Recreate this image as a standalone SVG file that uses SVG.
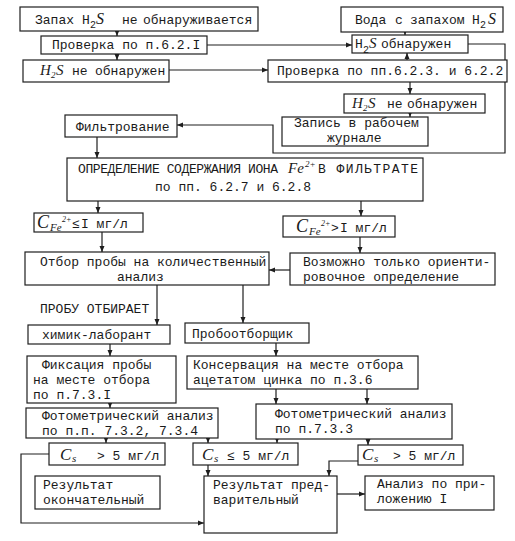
<svg xmlns="http://www.w3.org/2000/svg" width="515" height="541" viewBox="0 0 515 541">
<style>
.b{fill:#fff;stroke:#1e1e1e;stroke-width:1.2}
.t{font-family:"Liberation Mono","DejaVu Sans Mono",monospace;font-size:13px;fill:#1a1a1a}
.i{font-family:"Liberation Serif","DejaVu Serif",serif;font-style:italic}
.c{fill:none;stroke:#1e1e1e;stroke-width:1.2}
</style>
<defs>
<marker id="ah" markerUnits="userSpaceOnUse" markerWidth="6" markerHeight="6" refX="6" refY="3" orient="auto">
<path d="M0,0.5 L6,3 L0,5.5 z" fill="#1e1e1e"/>
</marker>
</defs>
<rect width="515" height="541" fill="#fff"/>
<g id="connectors" class="c" marker-end="url(#ah)">
<path d="M117,31 V36"/>
<path d="M117,54 V60"/>
<path d="M207,45 H352"/>
<path d="M405,32 V35"/>
<path d="M407,60 V53"/>
<path d="M169,70 H268"/>
<path d="M410,82 V94"/>
<path d="M410,113 V117"/>
<path d="M468,44 H505 V153 H273 V125 H177"/>
<path d="M97,137 V158"/>
<path d="M98,201 V213"/>
<path d="M361,201 V216"/>
<path d="M102,232 V252"/>
<path d="M360,237 V253"/>
<path d="M290,270 H269"/>
<path d="M157,285 V325"/>
<path d="M243,285 V323"/>
<path d="M110,344 V356"/>
<path d="M276,343 V356"/>
<path d="M110,403 V408"/>
<path d="M276,389 V404"/>
<path d="M367,389 V404"/>
<path d="M106,438 V443"/>
<path d="M208,438 V443"/>
<path d="M277,439 V443"/>
<path d="M368,439 V445"/>
<path d="M208,465 V476"/>
<path d="M49,454 H21 V523 H204"/>
<path d="M358,461 H329 V476"/>
<path d="M337,494 H365"/>
</g>
<g id="n1">
<rect class="b" x="20" y="7" width="238" height="24"/>
<text class="t" y="24"><tspan x="35">Запах</tspan><tspan x="82">H</tspan><tspan x="90" y="28" font-size="10">2</tspan><tspan x="96" y="24" class="i" font-size="16">S</tspan><tspan x="122">не</tspan><tspan x="143">обнаруживается</tspan></text>
</g>
<g id="n2">
<rect class="b" x="341" y="7" width="162" height="25"/>
<text class="t" y="24"><tspan x="355">Вода</tspan><tspan x="395">с</tspan><tspan x="410">запахом</tspan><tspan x="472">H</tspan><tspan x="480" y="28" font-size="10">2</tspan><tspan x="488" y="24" class="i" font-size="16">S</tspan></text>
</g>
<g id="n3">
<rect class="b" x="41" y="36" width="166" height="18"/>
<text class="t" x="52" y="49">Проверка по п.6.2.I</text>
</g>
<g id="n4">
<rect class="b" x="352" y="35" width="116" height="18"/>
<text class="t" y="48"><tspan x="355">H</tspan><tspan x="363" y="53" font-size="10">2</tspan><tspan x="369" y="48" class="i" font-size="15">S</tspan><tspan x="381">обнаружен</tspan></text>
</g>
<g id="n5">
<rect class="b" x="23" y="60" width="146" height="22"/>
<text class="t" y="75"><tspan x="40" class="i" font-size="15">H</tspan><tspan x="51" y="78" class="i" font-size="9">2</tspan><tspan x="56" y="75" class="i" font-size="15">S</tspan><tspan x="72">не</tspan><tspan x="95">обнаружен</tspan></text>
</g>
<g id="n6">
<rect class="b" x="268" y="60" width="239" height="22"/>
<text class="t" x="277" y="75">Проверка по пп.6.2.3. и 6.2.2</text>
</g>
<g id="n7">
<rect class="b" x="344" y="94" width="141" height="19"/>
<text class="t" y="108"><tspan x="352" class="i" font-size="15">H</tspan><tspan x="363" y="111" class="i" font-size="9">2</tspan><tspan x="368" y="108" class="i" font-size="15">S</tspan><tspan x="387">не</tspan><tspan x="407">обнаружен</tspan></text>
</g>
<g id="n8">
<rect class="b" x="282" y="117" width="146" height="29"/>
<text class="t" x="294" y="127">Запись в рабочем</text>
<text class="t" x="327" y="142">журнале</text>
</g>
<g id="n9">
<rect class="b" x="65" y="115" width="112" height="22"/>
<text class="t" x="76" y="131">Фильтрование</text>
</g>
<g id="n10">
<rect class="b" x="67" y="158" width="356" height="43"/>
<text class="t" x="78" y="173" textLength="200" lengthAdjust="spacing">ОПРЕДЕЛЕНИЕ СОДЕРЖАНИЯ ИОНА</text>
<text class="t" y="173"><tspan x="288" class="i" font-size="15">Fe</tspan><tspan x="305" y="167" class="i" font-size="9">2+</tspan></text>
<text class="t" x="318" y="173" textLength="100" lengthAdjust="spacing">В ФИЛЬТРАТЕ</text>
<text class="t" x="155" y="191">по пп. 6.2.7 и 6.2.8</text>
</g>
<g id="n11">
<rect class="b" x="34" y="213" width="109" height="19"/>
<text class="t" y="228"><tspan x="37" class="i" font-size="18">C</tspan><tspan x="50" y="231" class="i" font-size="11">Fe</tspan><tspan x="62" y="222" class="i" font-size="8">2+</tspan><tspan x="72" y="228">≤</tspan><tspan x="81">I мг/л</tspan></text>
</g>
<g id="n12">
<rect class="b" x="283" y="216" width="112" height="21"/>
<text class="t" y="232"><tspan x="296" class="i" font-size="18">C</tspan><tspan x="309" y="235" class="i" font-size="11">Fe</tspan><tspan x="321" y="226" class="i" font-size="8">2+</tspan><tspan x="331" y="232">&gt;</tspan><tspan x="340">I мг/л</tspan></text>
</g>
<g id="n13">
<rect class="b" x="25" y="252" width="244" height="33"/>
<text class="t" x="40" y="266">Отбор пробы на количественный</text>
<text class="t" x="117" y="281">анализ</text>
</g>
<g id="n14">
<rect class="b" x="290" y="253" width="205" height="32"/>
<text class="t" x="303" y="266">Возможно только ориенти-</text>
<text class="t" x="303" y="281">ровочное определение</text>
</g>
<g id="label-probu">
<text class="t" x="40" y="313">ПРОБУ ОТБИРАЕТ</text>
</g>
<g id="n15">
<rect class="b" x="28" y="325" width="142" height="19"/>
<text class="t" x="42" y="339">химик-лаборант</text>
</g>
<g id="n16">
<rect class="b" x="185" y="323" width="124" height="20"/>
<text class="t" x="192" y="338">Пробоотборщик</text>
</g>
<g id="n17">
<rect class="b" x="27" y="356" width="149" height="47"/>
<text class="t" x="42" y="369">Фиксация пробы</text>
<text class="t" x="33" y="384">на месте отбора</text>
<text class="t" x="33" y="399">по п.7.3.I</text>
</g>
<g id="n18">
<rect class="b" x="187" y="356" width="231" height="33"/>
<text class="t" x="193" y="369">Консервация на месте отбора</text>
<text class="t" x="193" y="384">ацетатом цинка по п.3.6</text>
</g>
<g id="n19">
<rect class="b" x="26" y="408" width="192" height="30"/>
<text class="t" x="42" y="419.5">Фотометрический анализ</text>
<text class="t" x="42" y="434.5">по п.п. 7.3.2, 7.3.4</text>
</g>
<g id="n20">
<rect class="b" x="256" y="404" width="196" height="35"/>
<text class="t" x="275" y="418">Фотометрический анализ</text>
<text class="t" x="275" y="433">по п.7.3.3</text>
</g>
<g id="n21">
<rect class="b" x="49" y="443" width="116" height="22"/>
<text class="t" y="460"><tspan x="60" class="i" font-size="17">C</tspan><tspan x="72" y="462" class="i" font-size="11">s</tspan><tspan x="97" y="460">&gt; 5 мг/л</tspan></text>
</g>
<g id="n22">
<rect class="b" x="193" y="443" width="105" height="22"/>
<text class="t" y="460"><tspan x="202" class="i" font-size="17">C</tspan><tspan x="214" y="462" class="i" font-size="11">s</tspan><tspan x="227" y="460">≤ 5 мг/л</tspan></text>
</g>
<g id="n23">
<rect class="b" x="358" y="445" width="105" height="20"/>
<text class="t" y="460"><tspan x="362" class="i" font-size="17">C</tspan><tspan x="374" y="462" class="i" font-size="11">s</tspan><tspan x="393" y="460">&gt; 5 мг/л</tspan></text>
</g>
<g id="n24">
<rect class="b" x="35" y="476" width="125" height="33"/>
<text class="t" x="43" y="489">Результат</text>
<text class="t" x="43" y="504">окончательный</text>
</g>
<g id="n25">
<rect class="b" x="204" y="476" width="133" height="57"/>
<text class="t" x="213" y="489">Результат пред-</text>
<text class="t" x="213" y="504">варительный</text>
</g>
<g id="n26">
<rect class="b" x="365" y="476" width="129" height="34"/>
<text class="t" x="377" y="488">Анализ по при-</text>
<text class="t" x="377" y="503">ложению I</text>
</g>
</svg>
